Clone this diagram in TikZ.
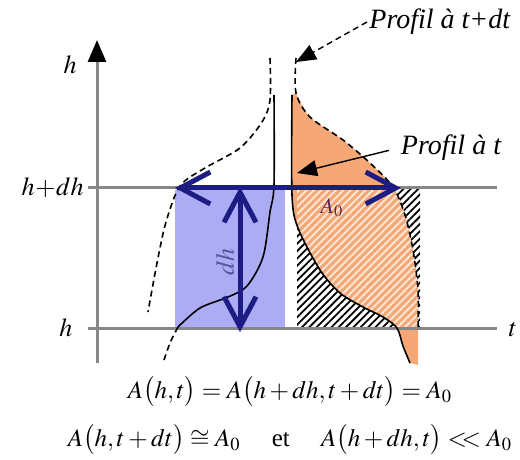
\documentclass[tikz,border=0pt]{standalone}
\usepackage{mathptmx}
\usepackage[no-math]{fontspec}
\setmainfont{Liberation Serif}
\usepackage{tikz}
\usetikzlibrary{arrows.meta,patterns.meta,positioning}
\definecolor{axisgray}{RGB}{135,135,135}
\definecolor{navy}{RGB}{28,28,130}
\definecolor{lavender}{RGB}{172,172,245}
\definecolor{peach}{RGB}{245,168,118}
\definecolor{plum}{RGB}{95,40,85}
\tikzstyle{axisline}=[axisgray,line width=1.5pt]
\tikzstyle{bank}=[black,line width=0.8pt]
\tikzstyle{bankdt}=[black,line width=0.8pt,dash pattern=on 3pt off 2pt]
\tikzstyle{bluearrow}=[{Straight Barb[length=15pt,width=16pt]}-{Straight Barb[length=15pt,width=16pt]},navy,line width=2.5pt]
\tikzstyle{callout}=[-{Triangle[length=10pt,width=8pt]},black,line width=0.7pt]
\tikzstyle{hatch}=[pattern={Lines[angle=45,distance=2.6pt,line width=0.9pt]}]
\tikzstyle{mathlbl}=[font=\fontsize{13}{15}\selectfont,inner sep=1pt]
\tikzstyle{proflbl}=[font=\fontsize{14}{17}\selectfont\itshape,inner sep=1pt]
\tikzstyle{eqn}=[font=\fontsize{12.5}{15}\selectfont,inner sep=0pt]

\begin{document}
\begin{tikzpicture}[x=0.5pt,y=-0.5pt]
  \useasboundingbox (0,0) rectangle (520,460);

  % areas
  \fill[lavender] (175,190) rectangle (285,328);
  \fill[hatch,pattern color=black] (297,188) rectangle (420,328);
  \begin{scope}
    \clip plot[smooth] coordinates {(292,95) (292,195) (298,228) (320,270) (340,293) (363,307) (383,317) (397,328) (403,346) (410,363)}
      -- (418,365)
      -- plot[smooth] coordinates {(418,330) (418,290) (413,250) (405,215) (393,187) (370,163) (343,140) (310,117) (296,93)} -- cycle;
    \fill[peach] (280,50) rectangle (430,380);
    \fill[hatch,pattern color=white!75!peach] (297,188) rectangle (420,328);
  \end{scope}

  % axes
  \coordinate (o) at (97,363);
  \coordinate (top) at (97,40);
  \coordinate (hw) at (88,328);
  \coordinate (he) at (497,328);
  \coordinate (dhw) at (88,188);
  \coordinate (dhe) at (497,188);
  \draw[axisline] (dhw) -- (dhe);
  \draw[axisline] (hw) -- (he);
  \draw[axisline,-{Triangle[length=11pt,width=9pt,black]}] (o) -- (top);

  % profiles
  \draw[bank] plot[smooth] coordinates {(274,95) (274,185) (270,212) (263,257) (247,286) (228,297) (200,308) (178,327)};
  \draw[bankdt] plot[smooth] coordinates {(178,327) (170,343) (163,363)};
  \draw[bank] plot[smooth] coordinates {(292,95) (292,195) (298,228) (320,270) (340,293) (363,307) (383,317) (397,328) (403,346) (410,363)};
  \draw[bankdt] plot[smooth] coordinates {(270,58) (270,100) (262,122) (240,148) (205,168) (180,186) (166,222) (157,263) (148,312)};
  \draw[bankdt] plot[smooth] coordinates {(296,58) (296,93) (310,117) (343,140) (370,163) (393,187) (405,215) (413,250) (418,290) (418,330)};

  % widths
  \coordinate (aw) at (175,188);
  \coordinate (ae) at (401,188);
  \coordinate (at) at (240,187);
  \coordinate (ab) at (240,332);
  \draw[bluearrow] (aw) -- (ae);
  \draw[bluearrow] (at) -- (ab);

  % labels
  \node[mathlbl] (hax) at (70,65) {$h$};
  \node[mathlbl,anchor=east] (hdh) at (86,188) {$h\!+\!dh$};
  \node[mathlbl] (hlab) at (66,328) {$h$};
  \node[mathlbl] (tlab) at (513,330) {$t$};
  \node[mathlbl,text=navy!75,rotate=90] (dhlab) at (225,262) {$dh$};
  \node[mathlbl,text=plum,font=\fontsize{11}{13}\selectfont] (a0) at (332,208) {$A_0$};

  \coordinate (tipT) at (297,173);
  \coordinate (tipDT) at (296,62);
  \node[proflbl] (pt) at (451,148) {Profil à t};
  \node[proflbl,anchor=west] (ptdt) at (367,22) {Profil à t+dt};
  \draw[callout,shorten <=5pt] (pt.west) -- (tipT);
  \draw[callout,dash pattern=on 3pt off 2pt] (ptdt.west) -- (tipDT);

  \node[eqn] (eq1) at (290,392) {$A\bigl(h,t\bigr)=A\bigl(h+dh,t+dt\bigr)=A_0$};
  \node[eqn] (eq2) at (290,440) {$A\bigl(h,t+dt\bigr)\cong A_0$ \quad et \quad $A\bigl(h+dh,t\bigr)<\!\!<A_0$};
\end{tikzpicture}
\end{document}
